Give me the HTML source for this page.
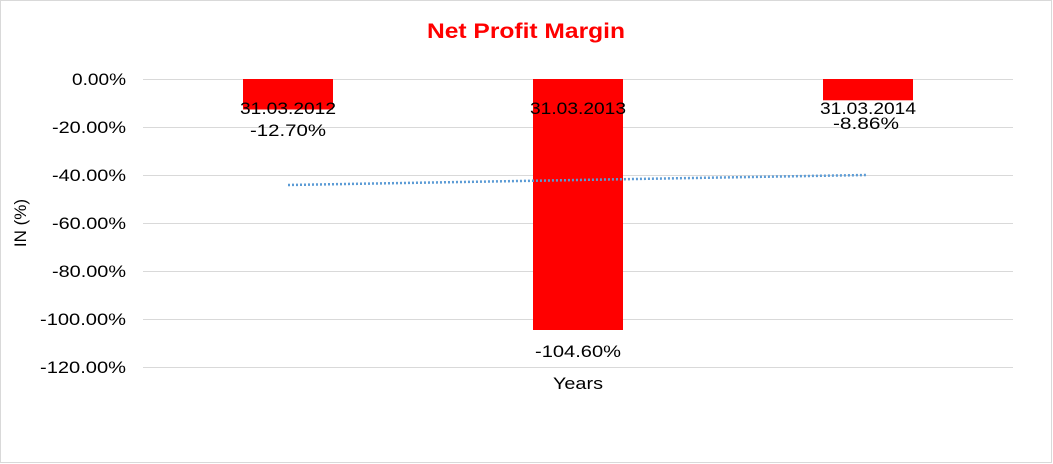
<!DOCTYPE html>
<html><head><meta charset="utf-8"><style>
body{margin:0;background:#fff;}
svg{display:block;font-family:"Liberation Sans",Arial,sans-serif;}
</style></head><body>
<svg width="1053" height="464" viewBox="0 0 1053 464">
<rect x="0.5" y="0.5" width="1051" height="462" fill="#fff" stroke="#d9d9d9"/>
<text x="526" y="38" text-anchor="middle" font-size="21" font-weight="bold" fill="#ff0000" textLength="198" lengthAdjust="spacingAndGlyphs">Net Profit Margin</text>
<g stroke="#d9d9d9" stroke-width="1">
<line x1="143" x2="1013" y1="79.5" y2="79.5"/>
<line x1="143" x2="1013" y1="127.5" y2="127.5"/>
<line x1="143" x2="1013" y1="175.5" y2="175.5"/>
<line x1="143" x2="1013" y1="223.5" y2="223.5"/>
<line x1="143" x2="1013" y1="271.5" y2="271.5"/>
<line x1="143" x2="1013" y1="319.5" y2="319.5"/>
<line x1="143" x2="1013" y1="367.5" y2="367.5"/>
</g>
<g font-size="17" fill="#000" text-anchor="end" lengthAdjust="spacingAndGlyphs">
<text x="126" y="85" textLength="54" lengthAdjust="spacingAndGlyphs">0.00%</text>
<text x="126" y="133" textLength="74" lengthAdjust="spacingAndGlyphs">-20.00%</text>
<text x="126" y="181" textLength="74" lengthAdjust="spacingAndGlyphs">-40.00%</text>
<text x="126" y="229" textLength="74" lengthAdjust="spacingAndGlyphs">-60.00%</text>
<text x="126" y="277" textLength="74" lengthAdjust="spacingAndGlyphs">-80.00%</text>
<text x="126" y="325" textLength="86" lengthAdjust="spacingAndGlyphs">-100.00%</text>
<text x="126" y="373" textLength="86" lengthAdjust="spacingAndGlyphs">-120.00%</text>
</g>
<text transform="translate(26,223) rotate(-90)" text-anchor="middle" font-size="17">IN (%)</text>
<rect x="243" y="79" width="90" height="30.5" fill="#ff0000"/>
<rect x="533" y="79" width="90" height="251" fill="#ff0000"/>
<rect x="823" y="79" width="90" height="21.3" fill="#ff0000"/>
<line x1="288" y1="185" x2="866" y2="175" stroke="#5b9bd5" stroke-width="2.5" stroke-dasharray="2,2"/>
<g font-size="17" text-anchor="middle" fill="#000">
<text x="288" y="114" textLength="96" lengthAdjust="spacingAndGlyphs">31.03.2012</text>
<text x="288" y="136" textLength="76" lengthAdjust="spacingAndGlyphs">-12.70%</text>
<text x="578" y="114" textLength="96" lengthAdjust="spacingAndGlyphs">31.03.2013</text>
<text x="578" y="357" textLength="86" lengthAdjust="spacingAndGlyphs">-104.60%</text>
<text x="868" y="114" textLength="96" lengthAdjust="spacingAndGlyphs">31.03.2014</text>
<text x="866" y="129" textLength="66" lengthAdjust="spacingAndGlyphs">-8.86%</text>
<text x="578" y="389" textLength="50" lengthAdjust="spacingAndGlyphs">Years</text>
</g>
</svg>
</body></html>
